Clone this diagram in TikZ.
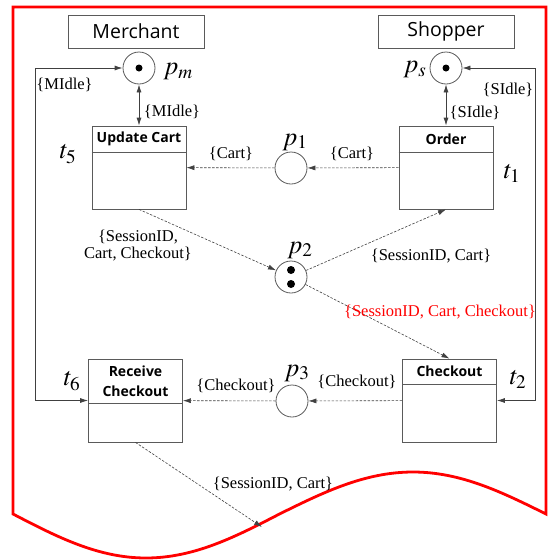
\documentclass[tikz,border=0pt]{standalone}
\usepackage{mathptmx}
\usepackage{fontspec}
\setmainfont{Liberation Serif}
\setsansfont{Open Sans}
\usetikzlibrary{arrows.meta,positioning,calc}
\definecolor{edgegray}{HTML}{404040}
\definecolor{boxgray}{HTML}{5A5A5A}
\newcommand{\tw}{94}

\tikzset{
  place/.style={circle,draw=boxgray,fill=white,minimum size=32pt,inner sep=0pt,line width=0.8pt},
  trans/.style={rectangle,draw=boxgray,fill=white,minimum width=\tw pt,minimum height=83pt,line width=0.8pt},
  head/.style={rectangle,minimum width=\tw pt,inner sep=0pt,align=center,font=\sffamily\bfseries\fontsize{14}{20}\selectfont},
  role/.style={rectangle,draw=boxgray,minimum width=136pt,minimum height=33pt,line width=0.8pt,font=\sffamily\fontsize{19.5}{21}\selectfont},
  token/.style={circle,fill=black,inner sep=0pt,minimum size=8pt},
  arcl/.style={inner sep=0pt,align=center,font=\fontsize{16.5}{17}\selectfont},
  mlab/.style={inner sep=0pt,font=\fontsize{26}{28}\selectfont},
  tip/.style={-{Latex[length=8pt,width=5pt]}},
  data/.style={draw=edgegray,line width=0.6pt,dash pattern=on 2.5pt off 1.5pt,tip},
  ctrl/.style={draw=edgegray,line width=0.8pt,{Latex[length=8pt,width=5pt]}-{Latex[length=8pt,width=5pt]}},
}

\begin{document}
\begin{tikzpicture}[x=1pt,y=-1pt]
\useasboundingbox (0,0) rectangle (547,560);
% frame with torn bottom
\draw[red,line width=2.8pt] (13,514) -- (13,7) -- (546,7) -- (546,514)
  sin (413,472) cos (279.5,514) sin (146,558) cos (13,514) -- cycle;

% roles
\node[role] (merch) at (136,31.5) {Merchant};
\node[role] (shop) at (446,31.5) {Shopper};

% places
\node[place] (pm) at (139,68) {};
\node[token,minimum size=7pt] at (pm) {};
\node[place] (ps) at (446,68) {};
\node[token,minimum size=7pt] at (ps) {};
\node[place] (p1) at (291,168) {};
\node[place] (p2) at (291,277) {};
\node[token] at ($(p2)+(0,-7)$) {};
\node[token] at ($(p2)+(0,7)$) {};
\node[place] (p3) at (292,401) {};

% transitions
\node[trans] (t5) at (139,167.5) {};
\node[head,minimum height=26pt,below=0pt of t5.north] (t5h) {Update Cart};
\node[trans] (t1) at (446,167.5) {};
\node[head,minimum height=26pt,below=0pt of t1.north] (t1h) {Order};
\node[trans] (t2) at (449.5,400.5) {};
\node[head,minimum height=25pt,below=0pt of t2.north] (t2h) {Checkout};
\node[trans] (t6) at (135.5,400.5) {};
\node[head,minimum height=44pt,below=0pt of t6.north] (t6h) {Receive\\Checkout};
\foreach \t in {t5,t1,t2,t6}{
  \draw[boxgray,line width=0.8pt] (\t h.south -| \t.west) -- (\t h.south -| \t.east);
}

% control arcs
\coordinate (lbend) at (35,68);
\coordinate (rbend) at (535,68);
\draw[ctrl] (pm) -- (t5.north);
\draw[ctrl] (ps) -- (t1.north);
\draw[ctrl] (pm.west) -- (lbend) |- (t6.west);
\draw[ctrl] (ps.east) -- (rbend) |- (t2.east);

% data arcs
\coordinate (out) at (262,527);
\draw[data] (t1) -- (p1);
\draw[data] (p1) -- (t5);
\draw[data] (t5.south) -- (p2);
\draw[data] (p2) -- (t1.south);
\draw[data] (p2) -- (t2.north);
\draw[data] (t2) -- (p3);
\draw[data] (p3) -- (t6);
\draw[data] (t6.south) -- (out);

% labels
\node[mlab] at (178,72) {$p_m$};
\node[mlab] at (415,70) {$p_s$};
\node[mlab] at (295,142) {$p_1$};
\node[mlab] at (300,250) {$p_2$};
\node[mlab] at (297,373) {$p_3$};
\node[mlab] at (68,154) {$t_5$};
\node[mlab] at (512,173) {$t_1$};
\node[mlab] at (518,379) {$t_2$};
\node[mlab] at (72,381) {$t_6$};

\node[arcl] at (64.5,85) {\{MIdle\}};
\node[arcl] at (172,112) {\{MIdle\}};
\node[arcl] at (508,90) {\{SIdle\}};
\node[arcl] at (475,113) {\{SIdle\}};
\node[arcl] at (231,154) {\{Cart\}};
\node[arcl] at (352,154) {\{Cart\}};
\node[arcl] at (138,246) {\{SessionID,\\Cart, Checkout\}};
\node[arcl] at (431,256) {\{SessionID, Cart\}};
\node[arcl,text=red] at (440,312) {\{SessionID, Cart, Checkout\}};
\node[arcl] at (357,382) {\{Checkout\}};
\node[arcl] at (236,386) {\{Checkout\}};
\node[arcl] at (273,484) {\{SessionID, Cart\}};
\end{tikzpicture}
\end{document}
